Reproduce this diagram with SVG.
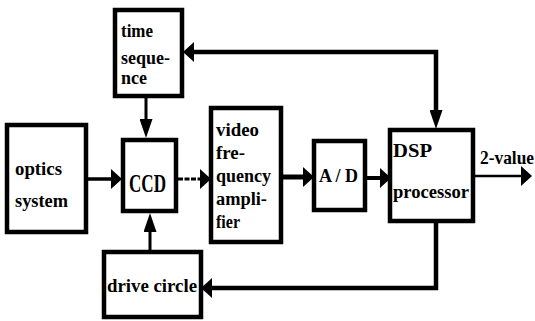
<svg xmlns="http://www.w3.org/2000/svg" width="535" height="321" viewBox="0 0 535 321">
<style>
.box{fill:#fff;stroke:#000;stroke-width:4.5}
.t{font-family:"Liberation Serif","DejaVu Serif",serif;font-weight:bold;font-size:18px;fill:#000}
.big{font-size:25px}
.c{fill:none;stroke:#000;stroke-linecap:butt;stroke-linejoin:miter}
</style>
<defs>
<marker id="mh" markerUnits="userSpaceOnUse" viewBox="0 0 11 20" markerWidth="11" markerHeight="20" refX="0" refY="10" orient="auto-start-reverse"><path d="M0,0 L11,10 L0,20 z" fill="#000"/></marker>
<marker id="mv" markerUnits="userSpaceOnUse" viewBox="0 0 19 13" markerWidth="19" markerHeight="13" refX="0" refY="6.5" orient="auto"><path d="M0,0 L19,6.5 L0,13 z" fill="#000"/></marker>
</defs>
<rect width="535" height="321" fill="#fff"/>
<g id="connectors">
<path class="c" d="M146,98 V119" stroke-width="3" marker-end="url(#mv)"/>
<path class="c" d="M194,52 H436 V110" stroke-width="4.5" marker-start="url(#mh)" marker-end="url(#mv)"/>
<path class="c" d="M88,179 H111" stroke-width="3.5" marker-end="url(#mh)"/>
<path class="c" d="M178,179 H200" stroke-width="3" stroke-dasharray="5 1.5" marker-end="url(#mh)"/>
<path class="c" d="M283,177 H303" stroke-width="5" marker-end="url(#mh)"/>
<path class="c" d="M367,178 H380" stroke-width="4" marker-end="url(#mh)"/>
<path class="c" d="M475,176 H521" stroke-width="2.5" marker-end="url(#mh)"/>
<path class="c" d="M436,223 V288 H212" stroke-width="4.5" marker-end="url(#mh)"/>
<path class="c" d="M150,250 V232" stroke-width="3" marker-end="url(#mv)"/>
</g>
<g id="time-sequence">
<rect class="box" x="115" y="10" width="67" height="86"/>
<text class="t" x="121" y="37" textLength="32" lengthAdjust="spacingAndGlyphs">time</text>
<text class="t" x="121" y="64" textLength="49" lengthAdjust="spacingAndGlyphs">seque-</text>
<text class="t" x="121" y="84" textLength="26" lengthAdjust="spacingAndGlyphs">nce</text>
</g>
<g id="optics-system">
<rect class="box" x="7" y="125" width="79" height="107"/>
<text class="t" x="15" y="175" textLength="47" lengthAdjust="spacingAndGlyphs">optics</text>
<text class="t" x="15" y="207" textLength="53" lengthAdjust="spacingAndGlyphs">system</text>
</g>
<g id="ccd">
<rect class="box" x="123" y="140" width="53" height="71"/>
<text class="t big" x="129" y="192" textLength="37" lengthAdjust="spacingAndGlyphs">CCD</text>
</g>
<g id="video-amplifier">
<rect class="box" x="211" y="108" width="70" height="134" stroke-width="3.5"/>
<text class="t" x="216" y="136" textLength="43" lengthAdjust="spacingAndGlyphs">video</text>
<text class="t" x="216" y="159" textLength="29" lengthAdjust="spacingAndGlyphs">fre-</text>
<text class="t" x="216" y="182" textLength="55" lengthAdjust="spacingAndGlyphs">quency</text>
<text class="t" x="216" y="205" textLength="51" lengthAdjust="spacingAndGlyphs">ampli-</text>
<text class="t" x="216" y="228" textLength="24" lengthAdjust="spacingAndGlyphs">fier</text>
</g>
<g id="ad">
<rect class="box" x="314" y="141" width="51" height="69" stroke-width="4"/>
<text class="t" x="319" y="182" textLength="39" lengthAdjust="spacingAndGlyphs">A / D</text>
</g>
<g id="dsp">
<rect class="box" x="390" y="130" width="83" height="91" stroke-width="4"/>
<text class="t" x="393" y="157" textLength="39" lengthAdjust="spacingAndGlyphs">DSP</text>
<text class="t" x="393" y="198" textLength="76" lengthAdjust="spacingAndGlyphs">processor</text>
</g>
<g id="drive-circle">
<rect class="box" x="104" y="252" width="97" height="65"/>
<text class="t" x="107" y="292" textLength="90" lengthAdjust="spacingAndGlyphs">drive circle</text>
</g>
<text class="t" x="480" y="164" textLength="54" lengthAdjust="spacingAndGlyphs">2-value</text>
</svg>
